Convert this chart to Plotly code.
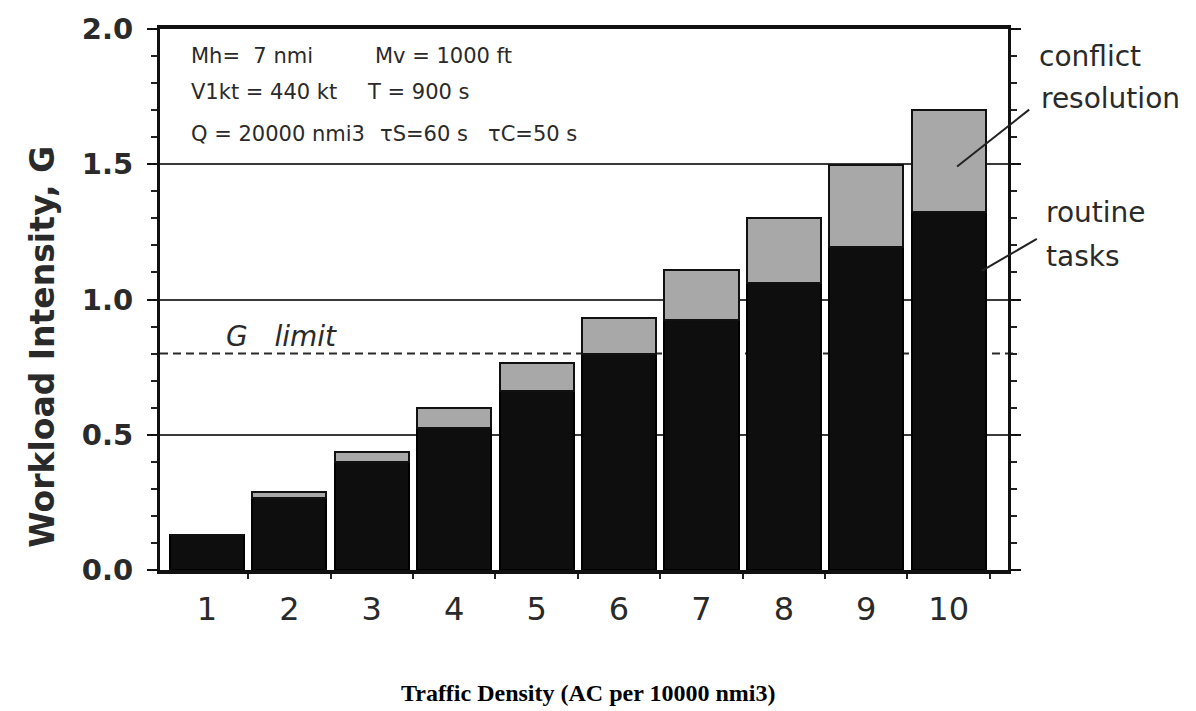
import plotly.graph_objects as go

density = [1, 2, 3, 4, 5, 6, 7, 8, 9, 10]
routine_tasks = [0.13, 0.265, 0.40, 0.525, 0.662, 0.797, 0.924, 1.06, 1.193, 1.322]
conflict_resolution = [0.0, 0.022, 0.037, 0.073, 0.103, 0.136, 0.186, 0.242, 0.304, 0.378]
g_limit = 0.8
y_ticks = [0.0, 0.5, 1.0, 1.5, 2.0]
y_tick_text = ["0.0", "0.5", "1.0", "1.5", "2.0"]

TXT = "#2a2a2a"
SANS = "DejaVu Sans"

fig = go.Figure()
fig.add_trace(go.Bar(x=density, y=routine_tasks, name="routine tasks",
                     marker=dict(color="#0e0e0e", line=dict(color="#000000", width=2))))
fig.add_trace(go.Bar(x=density, y=conflict_resolution, name="conflict resolution",
                     marker=dict(color="#a8a8a8", line=dict(color="#111111", width=2))))

fig.update_layout(
    barmode="stack", bargap=0.1,
    width=1196, height=711,
    margin=dict(l=160, r=188, t=20, b=141),
    paper_bgcolor="white", plot_bgcolor="white",
    showlegend=False,
    font=dict(family=SANS, color=TXT),
)

fig.update_xaxes(
    range=[0.43, 10.72],
    tickvals=density, ticktext=[str(d) for d in density],
    ticks="", showgrid=False, zeroline=False,
    tickfont=dict(family=SANS, size=32, color=TXT),
    ticklabelstandoff=8,
    showline=True, linecolor="#111111", linewidth=4, mirror=True,
    minor=dict(tickvals=[d + 0.5 for d in density], ticks="outside", ticklen=5,
               tickwidth=2, tickcolor="#222222", showgrid=False),
)

fig.update_yaxes(
    range=[0, 2.0],
    tickvals=y_ticks, ticktext=y_tick_text,
    ticks="outside", ticklen=10, tickwidth=2, tickcolor="#111111",
    tickfont=dict(family=SANS, size=29, color=TXT, weight="bold"),
    ticklabelstandoff=8,
    showgrid=True, gridcolor="#3a3a3a", gridwidth=2,
    zeroline=False,
    showline=True, linecolor="#111111", linewidth=3, mirror="ticks",
    minor=dict(dtick=0.1, ticks="outside", ticklen=6, tickwidth=2,
               tickcolor="#222222", showgrid=False),
)

# G limit dashed line
fig.add_shape(type="line", xref="paper", yref="y", x0=0, x1=1.012, y0=g_limit, y1=g_limit,
              line=dict(color="#2a2a2a", width=2, dash="8px,5px"), layer="below")

# pointer lines
fig.add_shape(type="line", xref="paper", yref="paper", x0=1.025, y0=0.851, x1=0.940, y1=0.746,
              line=dict(color="#222222", width=2))
fig.add_shape(type="line", xref="paper", yref="paper", x0=1.034, y0=0.612, x1=0.969, y1=0.553,
              line=dict(color="#222222", width=2))

def txt(x, y, s, size=21, style="normal"):
    fig.add_annotation(xref="paper", yref="paper", x=x, y=y, text=s, showarrow=False,
                       xanchor="left", yanchor="middle",
                       font=dict(family=SANS, size=size, color=TXT, style=style))

# parameters box
txt(0.0342, 0.950, "Mh=&nbsp;&nbsp;7 nmi")
txt(0.251, 0.950, "Mv = 1000 ft")
txt(0.0342, 0.883, "V1kt = 440 kt")
txt(0.242, 0.883, "T = 900 s")
txt(0.0342, 0.806, "Q = 20000 nmi3")
txt(0.257, 0.806, "τS=60 s")
txt(0.384, 0.806, "τC=50 s")

# G limit label
txt(0.075, 0.431, "G&nbsp;&nbsp;&nbsp;limit", size=28, style="italic")

# right-hand labels
txt(1.034, 0.950, "conflict", size=28)
txt(1.036, 0.872, "resolution", size=28)
txt(1.042, 0.660, "routine", size=28)
txt(1.042, 0.580, "tasks", size=28)

# axis titles
fig.add_annotation(xref="paper", yref="paper", x=-0.139, y=0.413, text="Workload Intensity, G",
                   textangle=-90, showarrow=False, xanchor="center", yanchor="middle",
                   font=dict(family=SANS, size=33, color=TXT, weight="bold"))
fig.add_annotation(xref="paper", yref="paper", x=0.505, y=-0.227,
                   text="Traffic Density (AC per 10000 nmi3)", showarrow=False,
                   xanchor="center", yanchor="middle",
                   font=dict(family="Liberation Serif", size=24, color="#000000", weight="bold"))

fig.write_html("out.html")
